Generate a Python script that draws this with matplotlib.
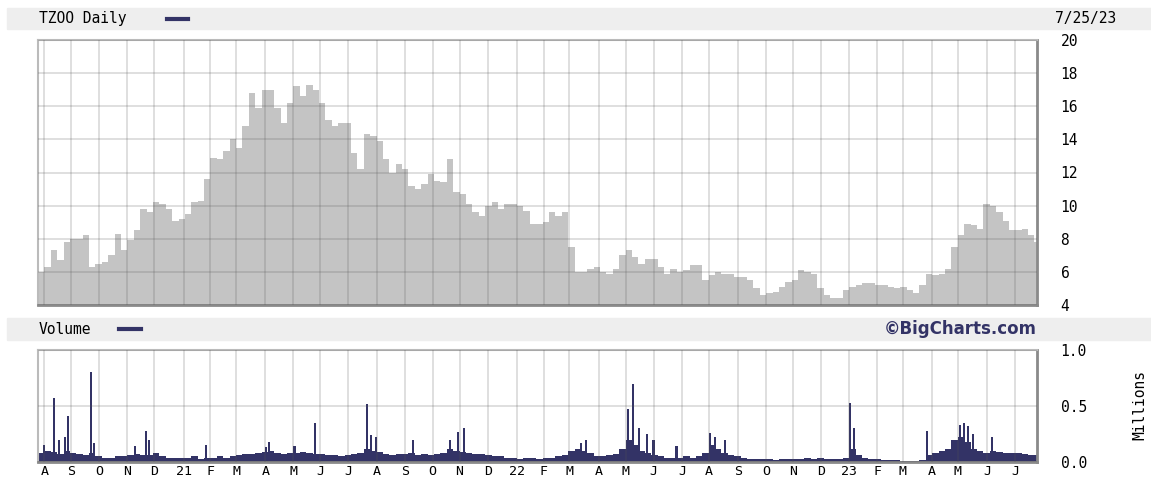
import numpy as np
import pandas as pd
import matplotlib
matplotlib.use("Agg")
import matplotlib.pyplot as plt
from matplotlib.patches import Rectangle
from matplotlib.lines import Line2D

# weekly close, one value per week starting Mon 2020-07-27
first_week = "2020-07-27"
last_day = "2023-07-25"
price = [
    6.0, 6.3, 7.3, 6.7, 7.8, 8.0, 8.0, 8.2,
    6.3, 6.5, 6.6, 7.0, 8.3, 7.3, 7.9, 8.5,
    9.8, 9.6, 10.2, 10.1, 9.8, 9.1, 9.2, 9.5,
    10.2, 10.3, 11.6, 12.9, 12.8, 13.3, 14.0, 13.5,
    14.8, 16.8, 15.9, 17.0, 17.0, 15.9, 15.0, 16.2,
    17.2, 16.6, 17.3, 17.0, 16.2, 15.2, 14.8, 15.0,
    15.0, 13.2, 12.2, 14.3, 14.2, 13.9, 12.8, 12.0,
    12.5, 12.2, 11.2, 11.0, 11.3, 11.9, 11.5, 11.4,
    12.8, 10.8, 10.7, 10.1, 9.6, 9.4, 10.0, 10.2,
    9.8, 10.1, 10.1, 10.0, 9.7, 8.9, 8.9, 9.0,
    9.6, 9.4, 9.6, 7.5, 6.0, 6.0, 6.2, 6.3,
    6.0, 5.9, 6.2, 7.0, 7.3, 6.9, 6.5, 6.8,
    6.8, 6.3, 5.9, 6.2, 6.0, 6.1, 6.4, 6.4,
    5.5, 5.8, 6.0, 5.9, 5.9, 5.7, 5.7, 5.5,
    5.0, 4.6, 4.7, 4.8, 5.1, 5.4, 5.5, 6.1,
    6.0, 5.9, 5.0, 4.6, 4.4, 4.4, 4.9, 5.1,
    5.2, 5.3, 5.3, 5.2, 5.2, 5.1, 5.0, 5.1,
    4.9, 4.7, 5.2, 5.9, 5.8, 5.9, 6.2, 7.5,
    8.2, 8.9, 8.8, 8.6, 10.1, 10.0, 9.6, 9.1,
    8.5, 8.5, 8.6, 8.2, 7.8,
]

# weekly typical volume (millions)
volume = [
    0.08, 0.10, 0.09, 0.07,
    0.10, 0.08, 0.07, 0.06,
    0.08, 0.05, 0.04, 0.04, 0.05,
    0.05, 0.06, 0.07, 0.06,
    0.06, 0.08, 0.05, 0.04, 0.04,
    0.04, 0.04, 0.05, 0.03, 0.04,
    0.04, 0.05, 0.04, 0.05,
    0.06, 0.07, 0.07, 0.08,
    0.09, 0.10, 0.08, 0.07, 0.08,
    0.08, 0.09, 0.08, 0.07,
    0.07, 0.06, 0.06, 0.05,
    0.06, 0.07, 0.08, 0.12, 0.10,
    0.09, 0.07, 0.06, 0.07,
    0.07, 0.08, 0.06, 0.07,
    0.06, 0.07, 0.08, 0.12, 0.10,
    0.09, 0.08, 0.07, 0.07,
    0.06, 0.05, 0.05, 0.04,
    0.04, 0.03, 0.04, 0.04, 0.03,
    0.04, 0.04, 0.05, 0.06,
    0.10, 0.12, 0.10, 0.08,
    0.05, 0.05, 0.06, 0.07,
    0.12, 0.20, 0.15, 0.10, 0.08,
    0.06, 0.05, 0.04, 0.04,
    0.04, 0.05, 0.04, 0.05,
    0.08, 0.15, 0.12, 0.08, 0.06,
    0.05, 0.04, 0.03, 0.03,
    0.03, 0.03, 0.02, 0.03,
    0.03, 0.03, 0.03, 0.04, 0.03,
    0.04, 0.03, 0.03, 0.03,
    0.04, 0.12, 0.06, 0.04, 0.03,
    0.03, 0.02, 0.02, 0.02,
    0.01, 0.01, 0.01, 0.02,
    0.06, 0.08, 0.10, 0.12,
    0.20, 0.22, 0.18, 0.12, 0.10,
    0.08, 0.10, 0.09, 0.08,
    0.08, 0.08, 0.07, 0.06, 0.06,
]

# single heavy-volume days
spike_dates = [
    "2020-07-31", "2020-08-12", "2020-08-18", "2020-08-24", "2020-08-27",
    "2020-09-22", "2020-09-24", "2020-11-09", "2020-11-20", "2020-11-24",
    "2021-01-26", "2021-04-01", "2021-04-05", "2021-05-03", "2021-05-25",
    "2021-07-21", "2021-07-26", "2021-07-30", "2021-09-09", "2021-10-20",
    "2021-10-28", "2021-11-04", "2022-03-11", "2022-03-17", "2022-05-03",
    "2022-05-09", "2022-05-16", "2022-05-24", "2022-05-31", "2022-06-24",
    "2022-08-01", "2022-08-05", "2022-08-17", "2023-01-02", "2023-01-05",
    "2023-03-27", "2023-04-26", "2023-05-02", "2023-05-05", "2023-05-10",
    "2023-05-16", "2023-06-06",
]
spike_vol = [
    0.15, 0.57, 0.20, 0.22, 0.41,
    0.80, 0.17, 0.14, 0.28, 0.20,
    0.15, 0.13, 0.18, 0.14, 0.35,
    0.52, 0.24, 0.22, 0.20, 0.20,
    0.27, 0.30, 0.17, 0.20, 0.47,
    0.70, 0.30, 0.25, 0.20, 0.14,
    0.26, 0.22, 0.20, 0.53, 0.30,
    0.28, 0.20, 0.33, 0.35, 0.32,
    0.25, 0.22,
]

month_labels = ["A", "S", "O", "N", "D", "21", "F", "M", "A", "M", "J", "J",
                "A", "S", "O", "N", "D", "22", "F", "M", "A", "M", "J", "J",
                "A", "S", "O", "N", "D", "23", "F", "M", "A", "M", "J", "J"]
price_ticks = [4, 6, 8, 10, 12, 14, 16, 18, 20]
vol_ticks = [0.0, 0.5, 1.0]

W, H = 1151, 480
NAVY = "#333366"
FILL = "#c4c4c4"
BAND = "#eeeeee"
MONO = "DejaVu Sans Mono"

days = pd.bdate_range(first_week, last_day)
n = len(days)
week_x = np.arange(len(price)) * 5
edges = np.append(week_x, n)
month_starts = pd.date_range("2020-08-01", periods=len(month_labels), freq="MS")
month_x = np.searchsorted(days, month_starts)
spike_x = np.searchsorted(days, pd.to_datetime(spike_dates))


def fx(x):
    return x / W


def fy(y):
    return 1 - y / H


fig = plt.figure(figsize=(W / 100, H / 100), dpi=100)

# header bands
for y0, y1 in [(8, 29), (318, 340)]:
    fig.patches.append(Rectangle((fx(7), fy(y1)), fx(W - 7), (y1 - y0) / H,
                                 transform=fig.transFigure, color=BAND, zorder=0))

ax = fig.add_axes([fx(38), fy(305), fx(999), 265 / H])
axv = fig.add_axes([fx(38), fy(462), fx(999), 112 / H])

ax.fill_between(edges, np.append(price, price[-1]), 0, step="post",
                color=FILL, lw=0, zorder=1)
axv.fill_between(edges, np.append(volume, volume[-1]), 0, step="post",
                 color=NAVY, lw=0, zorder=1)
axv.bar(spike_x, spike_vol, width=1.6, align="edge", color=NAVY, lw=0, zorder=1)

ax.set_ylim(4, 20)
axv.set_ylim(0, 1.0)

for a, ticks, labels in [(ax, price_ticks, [str(t) for t in price_ticks]),
                         (axv, vol_ticks, ["%.1f" % t for t in vol_ticks])]:
    a.set_xlim(0, n)
    a.set_xticks(month_x)
    a.set_yticks(ticks)
    a.set_yticklabels(labels, fontfamily=MONO, fontsize=10.5)
    a.yaxis.tick_right()
    a.tick_params(length=0, pad=17)
    a.grid(True, color="#555555", alpha=0.19, lw=1.4, zorder=3)
    a.set_axisbelow(False)
    for s in ["left", "top"]:
        a.spines[s].set_color("#bbbbbb")
        a.spines[s].set_linewidth(1.5)
    for s in ["right", "bottom"]:
        a.spines[s].set_color("#8a8a8a")
        a.spines[s].set_linewidth(2)

ax.set_xticklabels([])
axv.set_xticklabels(month_labels, fontfamily=MONO, fontsize=9.5)
axv.tick_params(axis="x", pad=2)

# header texts and legend dashes
fig.text(fx(39), fy(19), "TZOO Daily", fontfamily=MONO, fontsize=10.5, va="center")
fig.add_artist(Line2D([fx(167), fx(188)], [fy(19), fy(19)], color=NAVY, lw=3))
fig.text(fx(1055), fy(19), "7/25/23", fontfamily=MONO, fontsize=10.5, va="center")
fig.text(fx(39), fy(329), "Volume", fontfamily=MONO, fontsize=10.5, va="center")
fig.add_artist(Line2D([fx(119), fx(141)], [fy(329), fy(329)], color=NAVY, lw=3))
fig.text(fx(1037), fy(329), "\u00a9BigCharts.com", fontsize=12, fontweight="bold",
         color=NAVY, ha="right", va="center")
fig.text(fx(1140), fy(405), "Millions", fontfamily=MONO, fontsize=10.5,
         rotation=90, ha="center", va="center")

fig.savefig("out.png", dpi=100)
